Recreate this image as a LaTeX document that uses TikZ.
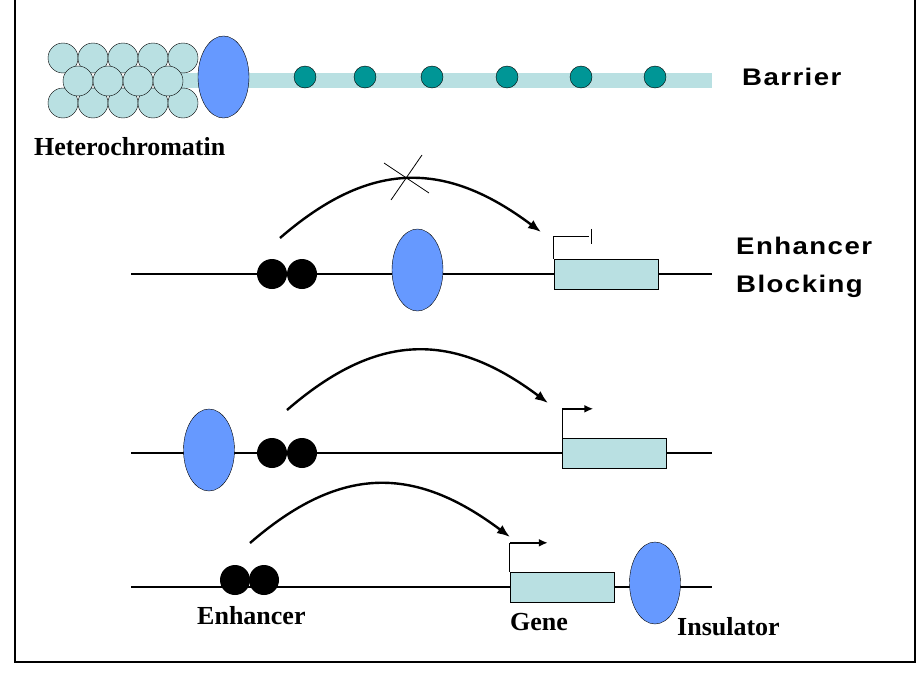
\documentclass[tikz,border=0pt]{standalone}
\usepackage{xcolor}
\usepackage{fontspec}
\setmainfont{Liberation Serif}
\newfontfamily\headfont[FakeStretch=1.15,LetterSpace=6]{Liberation Sans}
\usepackage{tikz}
\usetikzlibrary{calc}
\usetikzlibrary{arrows.meta}
\usetikzlibrary{shapes.geometric}

\definecolor{chromatin}{RGB}{185,224,226}
\definecolor{insblue}{RGB}{102,153,255}
\definecolor{nucteal}{RGB}{0,150,150}

\tikzset{
	insulator/.style={ellipse,draw=black,fill=insblue,inner sep=0pt,minimum width=51pt,minimum height=82pt},
	enh/.style={circle,fill=black,inner sep=0pt,minimum size=30pt},
	gene/.style={rectangle,draw=black,fill=chromatin,inner sep=0pt,minimum width=104pt,minimum height=30pt},
	histone/.style={circle,draw=black,fill=chromatin,inner sep=0pt,minimum size=30pt},
	tealdot/.style={circle,draw=black,fill=nucteal,inner sep=0pt,minimum size=22pt},
	dna/.style={line width=1.3pt},
	reach/.style={line width=2.4pt,-{Latex[length=13pt,width=10pt]}},
	start/.style={line width=2.6pt,-{Latex[length=9pt,width=8pt]}},
	tag/.style={inner sep=0pt,anchor=west,font=\bfseries\fontsize{26}{30}\selectfont},
	rowtitle/.style={inner sep=0pt,anchor=west,align=left,font=\headfont\bfseries\fontsize{24}{38}\selectfont}
}

\begin{document}
\begin{tikzpicture}[x=1pt,y=-1pt]
		\useasboundingbox (0,0) rectangle (916,696);
		\draw[line width=2pt] (15,-10) rectangle (915,662);

		%Barrier
		\fill[chromatin] (170,73) rectangle (712,88);
		\foreach \x in {63,93,...,183}{
			\node at (\x,58) [histone] {};
			\node at (\x,103) [histone] {};
		}
		\foreach \x in {78,108,...,168}{
			\node at (\x,81) [histone] {};
		}
		\node at (223.5,77) (ib) [insulator] {};
		\foreach \x/\n in {305/1,365/2,432/3,507/4,581/5,655/6}{
			\node at (\x,77) (t\n) [tealdot] {};
		}
		\node [tag] at (34,147) (het) {Heterochromatin};
		\node [rowtitle] at (742,77) (bar) {Barrier};

		% Enhancer blocking
		\coordinate (l2a) at (131,274);
		\coordinate (l2b) at (712,274);
		\draw[dna] (l2a) -- (l2b);
		\node at (272,274) (e2a) [enh] {};
		\node at (302,274) (e2b) [enh] {};
		\node at (417.5,270) (i2) [insulator] {};
		\node at (606,274) (g2) [gene] {};
		\draw[dna] (g2.north west) -- ++(0,-22) -- ++(35,0);
		\draw[dna] ($(g2.north west)+(38,-30)$) -- ++(0,15);
		\coordinate (s2) at (280,238);
		\coordinate (f2) at (541,232);
		\draw[reach] (s2) .. controls ($(s2)+(90,-78)$) and ($(f2)+(-96,-72)$) .. (f2);
		\draw[line width=0.8pt] (384,163) -- (429,193);
		\draw[line width=0.8pt] (422,155) -- (391,200);
		\node [rowtitle] at (736,267) (blk) {Enhancer\\Blocking};

		% Insulator before the enhancer
		\coordinate (l3a) at (131,453);
		\coordinate (l3b) at (712,453);
		\draw[dna] (l3a) -- (l3b);
		\node at (209,450) (i3) [insulator] {};
		\node at (272,453) (e3a) [enh] {};
		\node at (302,453) (e3b) [enh] {};
		\node at (614.5,453) (g3) [gene] {};
		\draw[dna] (g3.north west) -- ++(0,-29) coordinate (p3);
		\draw[start] (p3) -- ++(31,0);
		\coordinate (s3) at (287,410);
		\coordinate (f3) at (548,403);
		\draw[reach] (s3) .. controls ($(s3)+(90,-78)$) and ($(f3)+(-96,-72)$) .. (f3);

		% Insulator after the gene
		\coordinate (l4a) at (131,587);
		\coordinate (l4b) at (712,587);
		\draw[dna] (l4a) -- (l4b);
		\node at (235,580) (e4a) [enh] {};
		\node at (264,580) (e4b) [enh] {};
		\node at (562,587) (g4) [gene] {};
		\node at (655,583) (i4) [insulator] {};
		\draw[dna] (g4.north west) -- ++(0,-29) coordinate (p4);
		\draw[start] (p4) -- ++(38,0);
		\coordinate (s4) at (250,543);
		\coordinate (f4) at (510,537);
		\draw[reach] (s4) .. controls ($(s4)+(90,-78)$) and ($(f4)+(-96,-72)$) .. (f4);
		\node [tag] at (197,616) (enl) {Enhancer};
		\node [tag] at (510,622) (gnl) {Gene};
		\node [tag] at (677,627) (insl) {Insulator};
	\end{tikzpicture}
\end{document}
